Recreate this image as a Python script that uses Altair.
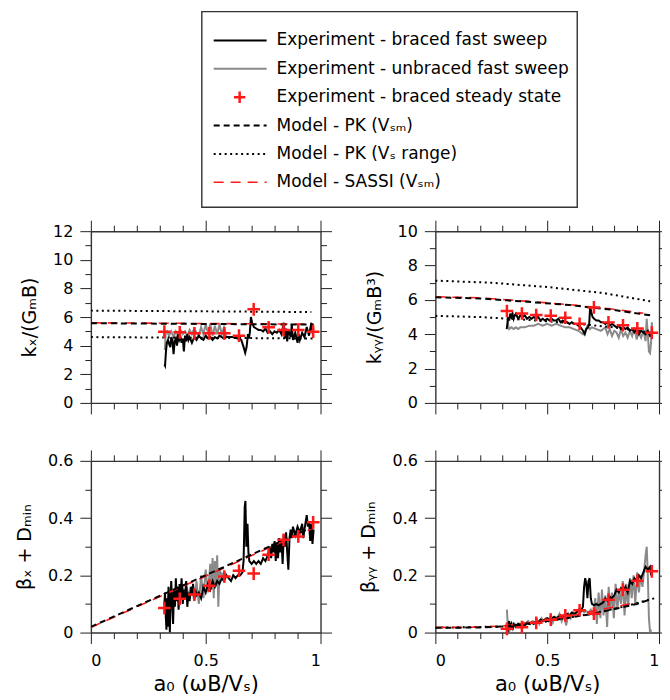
import altair as alt
import pandas as pd

FONT = "DejaVu Sans"

# ---------------- data ----------------
SS_X = [0.320, 0.387, 0.451, 0.516, 0.581, 0.645, 0.709, 0.774, 0.839, 0.903, 0.968]
KX_SS = [4.98, 4.93, 4.86, 4.86, 4.86, 4.70, 6.54, 5.28, 5.09, 5.09, 4.98]
KYY_SS = [5.35, 5.21, 5.12, 5.08, 4.96, 4.61, 5.56, 4.69, 4.52, 4.34, 4.09]
BX_SS = [0.086, 0.118, 0.133, 0.164, 0.196, 0.216, 0.206, 0.272, 0.324, 0.336, 0.385]
BYY_SS = [0.013, 0.019, 0.034, 0.045, 0.060, 0.078, 0.066, 0.115, 0.150, 0.181, 0.214]

KX_PK = [(0.0, 5.57), (0.97, 5.47)]
KX_SASSI = [(0.0, 5.60), (0.97, 5.50)]
KX_HI = [(0.0, 6.45), (0.96, 6.35)]
KX_LO = [(0.0, 4.60), (0.97, 4.50)]

KYY_PK = [(0.0, 6.15), (0.2, 6.08), (0.4, 5.90), (0.6, 5.70), (0.8, 5.41), (0.97, 5.08)]
KYY_SASSI = [(0.0, 6.18), (0.2, 6.12), (0.4, 5.93), (0.6, 5.72), (0.8, 5.45), (0.93, 5.22)]
KYY_HI = [(0.0, 7.12), (0.25, 7.00), (0.5, 6.75), (0.75, 6.40), (0.96, 5.92)]
KYY_LO = [(0.0, 5.07), (0.2, 5.00), (0.4, 4.85), (0.6, 4.65), (0.8, 4.40), (0.96, 4.10)]

BX_PK = [(0.0, 0.020), (0.97, 0.370)]
BX_SASSI = [(0.0, 0.018), (0.97, 0.366)]

BYY_PK = [(0.0, 0.017), (0.1, 0.017), (0.2, 0.018), (0.3, 0.021), (0.4, 0.030), (0.5, 0.040),
          (0.6, 0.052), (0.7, 0.065), (0.8, 0.082), (0.9, 0.100), (0.97, 0.118)]
BYY_SASSI = [(0.0, 0.018), (0.1, 0.018), (0.2, 0.019), (0.3, 0.023), (0.4, 0.032), (0.5, 0.043),
             (0.6, 0.058), (0.7, 0.074), (0.8, 0.090), (0.9, 0.105)]
BYY_HI = [(0.0, 0.017), (0.3, 0.021), (0.5, 0.040), (0.7, 0.066), (0.85, 0.092), (0.99, 0.122)]

TL_BLACK = [(0.320, 2.7), (0.323, 2.6), (0.327, 3.6), (0.331, 4.2), (0.336, 4.4), (0.341, 4.1),
            (0.346, 3.9), (0.350, 4.6), (0.355, 4.4), (0.360, 3.4), (0.365, 4.3), (0.370, 4.5),
            (0.375, 4.0), (0.380, 4.8), (0.385, 4.4), (0.390, 4.6), (0.395, 4.2), (0.400, 4.5),
            (0.405, 3.6), (0.410, 4.7), (0.415, 4.3), (0.420, 4.8), (0.425, 4.4), (0.430, 4.6),
            (0.440, 4.2), (0.450, 4.6), (0.460, 4.4), (0.470, 4.7), (0.480, 4.5), (0.490, 4.4),
            (0.500, 4.7), (0.510, 4.5), (0.520, 4.6), (0.530, 4.4), (0.540, 4.6), (0.550, 4.5),
            (0.560, 4.7), (0.570, 4.6), (0.580, 4.5), (0.590, 4.6), (0.600, 4.6), (0.620, 4.6),
            (0.640, 4.5), (0.655, 4.4), (0.665, 3.9), (0.672, 3.5), (0.678, 3.9), (0.684, 4.8),
            (0.688, 4.5), (0.692, 4.9), (0.697, 6.0), (0.702, 5.6), (0.710, 5.3), (0.720, 5.2),
            (0.730, 5.1), (0.740, 5.1), (0.750, 5.0), (0.760, 5.2), (0.770, 4.9), (0.780, 5.0),
            (0.790, 4.8), (0.800, 5.0), (0.810, 4.9), (0.820, 5.1), (0.830, 4.8), (0.840, 5.6),
            (0.845, 4.5), (0.850, 5.2), (0.855, 4.3), (0.860, 5.1), (0.870, 4.6), (0.875, 5.5),
            (0.880, 4.4), (0.890, 4.9), (0.900, 4.2), (0.905, 4.8), (0.910, 4.4), (0.920, 4.9),
            (0.930, 4.6), (0.940, 5.3), (0.950, 4.7), (0.960, 5.6), (0.965, 5.0), (0.970, 5.2)]
TL_GRAY = [(0.322, 3.7), (0.326, 4.9), (0.332, 5.0), (0.340, 4.7), (0.350, 5.0), (0.360, 4.6),
           (0.370, 5.0), (0.380, 4.7), (0.390, 5.1), (0.400, 4.8), (0.410, 5.0), (0.420, 4.7),
           (0.430, 5.1), (0.440, 4.8), (0.450, 5.2), (0.460, 4.9), (0.470, 4.7), (0.480, 5.3),
           (0.490, 4.8), (0.500, 5.5), (0.510, 4.9), (0.520, 5.5), (0.530, 4.7), (0.540, 5.4),
           (0.550, 4.8), (0.560, 5.5), (0.570, 4.8), (0.580, 5.3), (0.590, 4.6)]

TR_BLACK = [(0.319, 4.3), (0.322, 4.6), (0.326, 5.0), (0.330, 4.8), (0.335, 5.2), (0.340, 5.0),
            (0.345, 5.2), (0.350, 4.9), (0.355, 5.1), (0.360, 5.2), (0.370, 4.9), (0.380, 5.1),
            (0.390, 5.0), (0.400, 5.1), (0.410, 4.9), (0.420, 5.0), (0.430, 4.9), (0.440, 5.0),
            (0.450, 4.9), (0.460, 5.0), (0.470, 4.8), (0.480, 4.9), (0.490, 4.8), (0.500, 4.9),
            (0.510, 4.8), (0.520, 4.9), (0.530, 4.8), (0.540, 4.8), (0.550, 4.9), (0.560, 4.7),
            (0.570, 4.8), (0.580, 4.7), (0.590, 4.7), (0.600, 4.6), (0.610, 4.7), (0.620, 4.6),
            (0.630, 4.6), (0.640, 4.5), (0.650, 4.4), (0.660, 4.2), (0.668, 4.0), (0.675, 4.3),
            (0.682, 4.4), (0.688, 4.6), (0.692, 5.6), (0.697, 5.3), (0.703, 5.0), (0.710, 4.9),
            (0.720, 4.8), (0.730, 4.8), (0.740, 4.7), (0.750, 4.7), (0.760, 4.6), (0.770, 4.7),
            (0.780, 4.5), (0.790, 4.6), (0.800, 4.5), (0.810, 4.4), (0.820, 4.5), (0.830, 4.3),
            (0.840, 4.4), (0.850, 4.3), (0.860, 4.4), (0.870, 4.2), (0.880, 4.3), (0.890, 4.1),
            (0.900, 4.3), (0.910, 4.0), (0.920, 4.2), (0.930, 4.1), (0.940, 4.0), (0.950, 4.2),
            (0.960, 3.9), (0.970, 4.0)]
TR_GRAY = [(0.322, 4.9), (0.326, 4.5), (0.330, 4.3), (0.340, 4.4), (0.350, 4.3), (0.360, 4.4),
           (0.370, 4.3), (0.380, 4.4), (0.400, 4.4), (0.420, 4.5), (0.440, 4.5), (0.460, 4.6),
           (0.480, 4.5), (0.500, 4.6), (0.520, 4.5), (0.540, 4.6), (0.560, 4.5), (0.580, 4.4),
           (0.600, 4.4), (0.620, 4.3), (0.640, 4.2), (0.660, 4.0), (0.670, 4.2), (0.680, 4.5),
           (0.690, 4.3), (0.700, 4.4), (0.720, 4.3), (0.740, 4.2), (0.760, 4.4), (0.770, 4.0),
           (0.780, 4.3), (0.790, 3.9), (0.800, 4.2), (0.810, 4.1), (0.820, 3.8), (0.830, 4.3),
           (0.840, 3.9), (0.850, 4.1), (0.860, 3.8), (0.870, 4.2), (0.880, 3.9), (0.890, 4.4),
           (0.900, 3.7), (0.910, 4.1), (0.920, 3.8), (0.930, 4.2), (0.940, 3.6), (0.945, 4.9),
           (0.950, 4.0), (0.955, 3.0), (0.960, 2.9), (0.965, 3.6), (0.968, 4.7), (0.970, 4.0)]

BL_BLACK = [(0.320, 0.10), (0.323, 0.14), (0.326, 0.06), (0.329, 0.01), (0.332, 0.12), (0.335, 0.02),
            (0.338, 0.16), (0.341, 0.08), (0.344, 0.00), (0.347, 0.13), (0.350, 0.18), (0.354, 0.10),
            (0.358, 0.03), (0.362, 0.15), (0.366, 0.09), (0.370, 0.19), (0.374, 0.11), (0.378, 0.16),
            (0.382, 0.08), (0.386, 0.17), (0.390, 0.12), (0.395, 0.19), (0.400, 0.10), (0.405, 0.15),
            (0.410, 0.12), (0.415, 0.18), (0.420, 0.09), (0.425, 0.14), (0.430, 0.11), (0.435, 0.16),
            (0.440, 0.13), (0.445, 0.17), (0.450, 0.12), (0.455, 0.15), (0.460, 0.13), (0.470, 0.14),
            (0.480, 0.12), (0.490, 0.16), (0.500, 0.14), (0.510, 0.17), (0.520, 0.15), (0.530, 0.18),
            (0.540, 0.16), (0.550, 0.18), (0.560, 0.17), (0.570, 0.19), (0.580, 0.18), (0.590, 0.20),
            (0.600, 0.19), (0.610, 0.18), (0.620, 0.20), (0.630, 0.19), (0.640, 0.20), (0.650, 0.20),
            (0.660, 0.21), (0.665, 0.25), (0.670, 0.44), (0.673, 0.46), (0.677, 0.30), (0.682, 0.38),
            (0.686, 0.28), (0.690, 0.25), (0.700, 0.24), (0.710, 0.25), (0.720, 0.24), (0.730, 0.25),
            (0.740, 0.24), (0.750, 0.26), (0.760, 0.25), (0.770, 0.27), (0.780, 0.30), (0.785, 0.26),
            (0.790, 0.31), (0.795, 0.28), (0.800, 0.32), (0.805, 0.25), (0.810, 0.31), (0.815, 0.26),
            (0.820, 0.33), (0.825, 0.28), (0.830, 0.32), (0.835, 0.24), (0.840, 0.34), (0.845, 0.30),
            (0.850, 0.35), (0.855, 0.28), (0.860, 0.22), (0.865, 0.33), (0.870, 0.36), (0.875, 0.33),
            (0.880, 0.37), (0.890, 0.34), (0.900, 0.37), (0.910, 0.35), (0.920, 0.38), (0.925, 0.33),
            (0.930, 0.36), (0.940, 0.41), (0.945, 0.37), (0.950, 0.39), (0.955, 0.32), (0.960, 0.38),
            (0.965, 0.31), (0.970, 0.36)]
BL_GRAY = [(0.322, 0.12), (0.330, 0.09), (0.340, 0.14), (0.350, 0.11), (0.360, 0.15), (0.370, 0.12),
           (0.380, 0.15), (0.390, 0.13), (0.400, 0.16), (0.410, 0.13), (0.420, 0.15), (0.430, 0.12),
           (0.440, 0.16), (0.450, 0.11), (0.460, 0.18), (0.470, 0.10), (0.480, 0.20), (0.490, 0.12),
           (0.500, 0.22), (0.510, 0.14), (0.520, 0.24), (0.525, 0.15), (0.530, 0.26), (0.535, 0.12),
           (0.540, 0.25), (0.545, 0.16), (0.550, 0.27), (0.555, 0.09), (0.560, 0.22), (0.570, 0.20),
           (0.580, 0.21), (0.590, 0.20)]

BR_BLACK = [(0.322, -0.01), (0.326, 0.03), (0.330, 0.04), (0.335, 0.02), (0.340, 0.03), (0.345, 0.01),
            (0.350, 0.03), (0.360, 0.02), (0.370, 0.03), (0.380, 0.02), (0.390, 0.03), (0.400, 0.025),
            (0.410, 0.035), (0.420, 0.03), (0.430, 0.035), (0.440, 0.03), (0.450, 0.04), (0.460, 0.035),
            (0.470, 0.045), (0.480, 0.04), (0.490, 0.045), (0.500, 0.05), (0.510, 0.045), (0.520, 0.05),
            (0.530, 0.055), (0.540, 0.05), (0.550, 0.055), (0.560, 0.06), (0.570, 0.055), (0.580, 0.06),
            (0.590, 0.065), (0.600, 0.06), (0.610, 0.07), (0.620, 0.065), (0.630, 0.07), (0.640, 0.08),
            (0.650, 0.075), (0.660, 0.09), (0.665, 0.16), (0.670, 0.19), (0.675, 0.17), (0.680, 0.12),
            (0.685, 0.18), (0.690, 0.19), (0.695, 0.12), (0.700, 0.10), (0.710, 0.095), (0.720, 0.10),
            (0.730, 0.095), (0.740, 0.10), (0.750, 0.105), (0.760, 0.12), (0.770, 0.11), (0.780, 0.125),
            (0.790, 0.12), (0.800, 0.13), (0.810, 0.15), (0.820, 0.14), (0.830, 0.155), (0.840, 0.145),
            (0.850, 0.16), (0.860, 0.14), (0.870, 0.18), (0.880, 0.17), (0.890, 0.19), (0.900, 0.18),
            (0.910, 0.20), (0.920, 0.19), (0.930, 0.21), (0.940, 0.23), (0.950, 0.22), (0.960, 0.23),
            (0.965, 0.20), (0.970, 0.21)]
BR_GRAY = [(0.320, 0.08), (0.324, 0.02), (0.328, -0.01), (0.335, 0.02), (0.345, 0.01), (0.355, 0.03),
           (0.365, 0.02), (0.375, 0.03), (0.385, 0.02), (0.395, 0.035), (0.405, 0.03), (0.415, 0.04),
           (0.425, 0.03), (0.435, 0.04), (0.445, 0.035), (0.455, 0.045), (0.465, 0.03), (0.475, 0.05),
           (0.485, 0.04), (0.495, 0.05), (0.505, 0.04), (0.515, 0.06), (0.525, 0.035), (0.535, 0.055),
           (0.545, 0.05), (0.555, 0.065), (0.565, 0.04), (0.575, 0.06), (0.585, 0.025), (0.595, 0.065),
           (0.605, 0.05), (0.615, 0.07), (0.625, 0.06), (0.635, 0.075), (0.645, 0.065), (0.655, 0.08),
           (0.665, 0.07), (0.675, 0.075), (0.685, 0.07), (0.695, 0.08), (0.705, 0.06), (0.715, 0.12),
           (0.722, 0.03), (0.730, 0.14), (0.738, 0.05), (0.745, 0.15), (0.752, 0.06), (0.760, 0.13),
           (0.768, 0.02), (0.775, 0.16), (0.782, 0.08), (0.790, 0.14), (0.798, 0.05), (0.806, 0.17),
           (0.814, 0.08), (0.822, 0.15), (0.830, 0.10), (0.838, 0.18), (0.846, 0.06), (0.854, 0.17),
           (0.862, 0.09), (0.870, 0.19), (0.878, 0.12), (0.886, 0.20), (0.894, 0.10), (0.902, 0.21),
           (0.910, 0.14), (0.918, 0.20), (0.926, 0.16), (0.934, 0.22), (0.940, 0.27), (0.945, 0.30),
           (0.950, 0.20), (0.955, 0.05), (0.960, 0.00), (0.965, 0.01)]

LEGEND_LABELS = ["Experiment - braced fast sweep",
                 "Experiment - unbraced fast sweep",
                 "Experiment - braced steady state",
                 "Model - PK (V\u209b\u2098)",
                 "Model - PK (V\u209b range)",
                 "Model - SASSI (V\u209b\u2098)"]

X_TITLE = "a\u2080 (\u03c9B/V\u209b)"
Y_TITLES = ["k\u2093/(G\u2098B)", "k\u1d67\u1d67/(G\u2098B\u00b3)",
            "\u03b2\u2093 + D\u2098\u1d62\u2099", "\u03b2\u1d67\u1d67 + D\u2098\u1d62\u2099"]

X_MAJOR = [0, 0.5, 1]
X_MINOR = [0.1, 0.2, 0.3, 0.4, 0.6, 0.7, 0.8, 0.9]

# ---------------- styles / layout ----------------
BLACK = "#000000"
GRAY = "#8a8a8a"
RED = "#ff1a1a"
CROSS = "M-1,0L1,0M0,-1L0,1"
W_L, W_R, H = 230, 224, 172


def pdf(pairs):
    return pd.DataFrame(pairs, columns=["a", "v"])


def panel(width, ymax, ymajor, yminor, ytitle, bottom, gray, black, ss_y, models):
    xs = alt.Scale(domain=[0, 1], nice=False, zero=False)
    ys = alt.Scale(domain=[0, ymax], nice=False, zero=False)
    common = dict(grid=False, tickColor="#222222", tickWidth=1, domainColor="#333333",
                  domainWidth=1.4, labelFont=FONT, labelFontSize=16, labelColor="black",
                  titleFont=FONT, titleColor="black", titleFontWeight="normal")
    ax_df = pd.DataFrame({"a": [0.5], "v": [ymax / 2]})

    def axis_layer(xa, ya):
        return alt.Chart(ax_df).mark_point(opacity=0).encode(
            x=alt.X("a:Q", scale=xs, axis=xa), y=alt.Y("v:Q", scale=ys, axis=ya))

    if bottom:
        xmaj = alt.Axis(orient="bottom", values=X_MAJOR, tickSize=11, labels=True, format="~r",
                        labelPadding=9, title=X_TITLE, titleFontSize=21, titlePadding=5, **common)
    else:
        xmaj = alt.Axis(orient="bottom", values=X_MAJOR, tickSize=11, labels=False, title=None, **common)
    ymaj = alt.Axis(orient="left", values=ymajor, tickSize=11, labels=True, format="~r",
                    labelPadding=7, title=ytitle, titleFontSize=19, titlePadding=13, **common)
    layers = [
        axis_layer(xmaj, ymaj),
        axis_layer(alt.Axis(orient="bottom", values=X_MINOR, tickSize=6, labels=False, domain=False, title=None, **common),
                   alt.Axis(orient="left", values=yminor, tickSize=6, labels=False, domain=False, title=None, **common)),
        axis_layer(alt.Axis(orient="top", values=X_MAJOR, tickSize=11, labels=False, title=None, **common),
                   alt.Axis(orient="right", values=ymajor, tickSize=11, labels=False, title=None, **common)),
        axis_layer(alt.Axis(orient="top", values=X_MINOR, tickSize=6, labels=False, domain=False, title=None, **common),
                   alt.Axis(orient="right", values=yminor, tickSize=6, labels=False, domain=False, title=None, **common)),
    ]

    def line(pairs, color, width_, dash=None):
        kw = dict(color=color, strokeWidth=width_, clip=True)
        if dash:
            kw["strokeDash"] = dash
        return alt.Chart(pdf(pairs)).mark_line(**kw).encode(
            x=alt.X("a:Q", scale=xs, axis=None), y=alt.Y("v:Q", scale=ys, axis=None))

    layers.append(line(gray, GRAY, 2))
    layers.append(line(black, BLACK, 2))
    pk, sassi, lo, hi = models
    for d in (lo, hi):
        if d:
            layers.append(line(d, BLACK, 2, [2, 3.5]))
    layers.append(line(sassi, RED, 1.6, [10, 7]))
    layers.append(line(pk, BLACK, 2, [6, 4]))
    layers.append(alt.Chart(pd.DataFrame({"a": SS_X, "v": ss_y})).mark_point(
        shape=CROSS, filled=False, color=RED, strokeWidth=2.5, size=160, opacity=1).encode(
        x=alt.X("a:Q", scale=xs, axis=None), y=alt.Y("v:Q", scale=ys, axis=None)))
    return alt.layer(*layers).resolve_axis(x="independent", y="independent").properties(
        width=width, height=H)


tl = panel(W_L, 12, [0, 2, 4, 6, 8, 10, 12], [1, 3, 5, 7, 9, 11], Y_TITLES[0], False,
           TL_GRAY, TL_BLACK, KX_SS, (KX_PK, KX_SASSI, KX_LO, KX_HI))
tr = panel(W_R, 10, [0, 2, 4, 6, 8, 10], [1, 3, 5, 7, 9], Y_TITLES[1], False,
           TR_GRAY, TR_BLACK, KYY_SS, (KYY_PK, KYY_SASSI, KYY_LO, KYY_HI))
bl = panel(W_L, 0.6, [0, 0.2, 0.4, 0.6], [0.1, 0.3, 0.5], Y_TITLES[2], True,
           BL_GRAY, BL_BLACK, BX_SS, (BX_PK, BX_SASSI, None, None))
br = panel(W_R, 0.6, [0, 0.2, 0.4, 0.6], [0.1, 0.3, 0.5], Y_TITLES[3], True,
           BR_GRAY, BR_BLACK, BYY_SS, (BYY_PK, BYY_SASSI, None, BYY_HI))

# ---------------- legend ----------------
leg_df = pd.DataFrame({"row": list(range(len(LEGEND_LABELS))), "label": LEGEND_LABELS})
LW, LH = 376, 196
yrow = alt.Y("row:O", scale=alt.Scale(type="point", range=[29, 171], padding=0), axis=None)


def leg_rule(k, color, width, dash=None):
    kw = dict(color=color, strokeWidth=width)
    if dash:
        kw["strokeDash"] = dash
    return alt.Chart(leg_df).transform_filter(alt.datum.row == k).mark_rule(**kw).encode(
        x=alt.value(12), x2=alt.value(65), y=yrow)


legend = alt.layer(
    leg_rule(0, BLACK, 2),
    leg_rule(1, GRAY, 2),
    alt.Chart(leg_df).transform_filter(alt.datum.row == 2).mark_point(
        shape=CROSS, filled=False, color=RED, strokeWidth=2.5, size=130, opacity=1).encode(
        x=alt.value(38), y=yrow),
    leg_rule(3, BLACK, 2, [6, 4]),
    leg_rule(4, BLACK, 2, [2, 3.5]),
    leg_rule(5, RED, 1.6, [10, 7]),
    alt.Chart(leg_df).mark_text(align="left", baseline="middle", font=FONT, fontSize=17,
                                color="black").encode(x=alt.value(75), y=yrow, text="label:N"),
).properties(width=LW, height=LH, view=alt.ViewBackground(stroke="#333333", strokeWidth=1.4))

SPACER_W = 111
spacer = alt.Chart(pd.DataFrame({"s": [0]})).mark_rect(opacity=0).encode(
    x=alt.value(0), x2=alt.value(SPACER_W), y=alt.value(0), y2=alt.value(LH)
).properties(width=SPACER_W, height=LH)

top = alt.hconcat(spacer, legend, spacing=0, bounds="flush")
row1 = alt.hconcat(tl, tr, spacing=115, bounds="flush")
row2 = alt.hconcat(bl, br, spacing=115, bounds="flush")
grid = alt.vconcat(row1, row2, spacing=34)

chart = alt.vconcat(top, grid, spacing=11).properties(
    padding={"left": 7, "top": 2, "right": -9, "bottom": 0}
).configure(font=FONT).configure_view(stroke=None)

chart.save("out.html", embed_options={"renderer": "svg", "actions": False})
